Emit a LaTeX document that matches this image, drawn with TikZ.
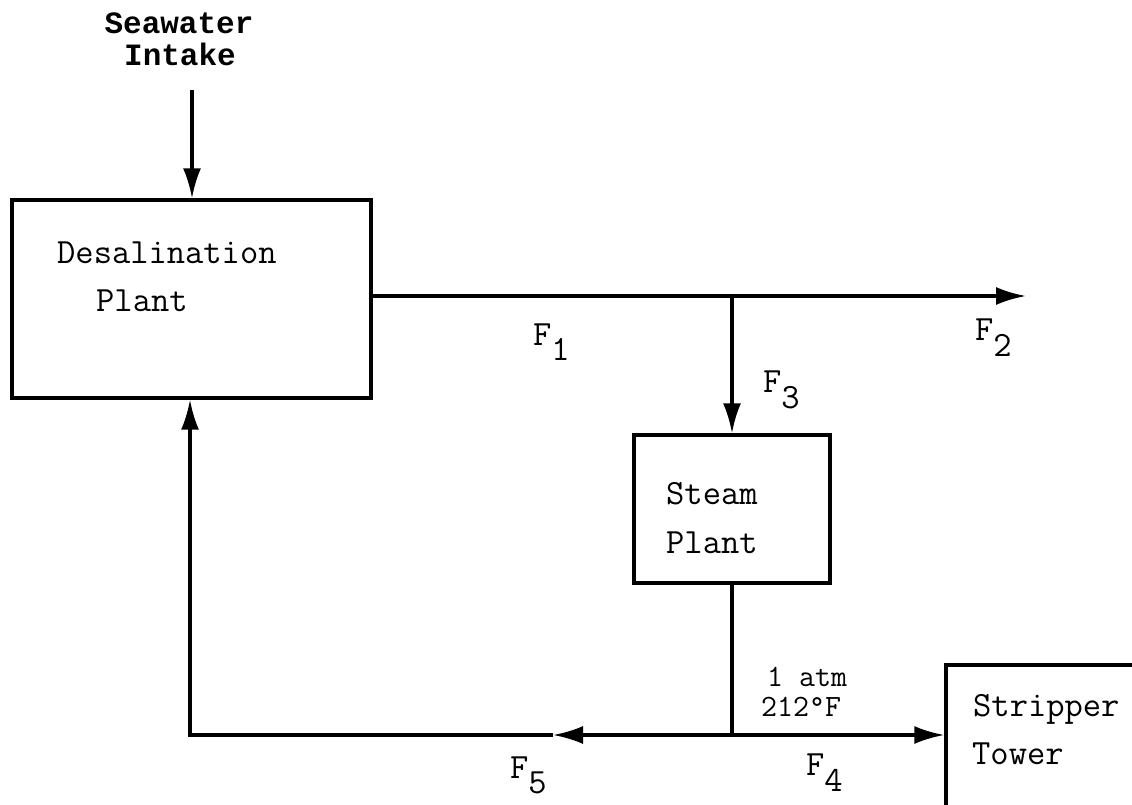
\documentclass[tikz,border=0pt]{standalone}
\usepackage{fontspec}
\newfontfamily\boldmono{Liberation Mono Bold}
\usetikzlibrary{arrows.meta}
\newcommand{\twfont}{\ttfamily\addfontfeatures{FakeBold=0.7}}
\begin{document}
\begin{tikzpicture}[x=1pt,y=-1pt,
  box/.style={draw,line width=3.4pt,minimum width=#1,inner sep=0pt},
  lbl/.style={font=\twfont\fontsize{35.5}{38}\selectfont,inner sep=0pt,anchor=base west},
  small/.style={font=\twfont\fontsize{31}{30}\selectfont,inner sep=0pt,align=left},
  title/.style={font=\boldmono\fontsize{31}{35}\selectfont,inner sep=0pt,anchor=base},
  flow/.style={line width=3.2pt},
  arr/.style={flow,-{Latex[length=30pt,width=18pt]}}]
\useasboundingbox (0,0) rectangle (1132,805);
% boxes
\node[box=359pt,minimum height=198pt] (desal) at (191.5,299) {};
\node[box=196pt,minimum height=148pt] (steam) at (732,509) {};
\node[box=260pt,minimum height=200pt] (strip) at (1076,765) {};
% box texts
\node[lbl] (tdesal1) at (57,263) {Desalination};
\node[lbl] (tdesal2) at (96,311) {Plant};
\node[lbl] (tsteam1) at (666,504) {Steam};
\node[lbl] (tsteam2) at (666,553) {Plant};
\node[lbl] (tstrip1) at (973,716) {Stripper};
\node[lbl] (tstrip2) at (972,764) {Tower};
% intake
\node[title] (sea) at (179,34) {Seawater};
\node[title] (intk) at (180,66) {Intake};
\coordinate (intop) at (192,90);
\draw[arr] (intop) -- (intop |- desal.north);
% F1/F2 line
\coordinate (j1) at (732,296);
\coordinate (f2end) at (1026,296);
\draw[arr] (desal.east |- j1) -- (f2end);
% F3
\draw[arr] (j1) -- (steam.north);
% steam bottom
\coordinate (j2) at (732,735);
\draw[flow] (steam.south) -- (j2);
\draw[arr] (j2) -- (j2 -| strip.west);
% F5
\coordinate (f5tip) at (553,735);
\coordinate (corner) at (190,735);
\draw[arr] (j2) -- (f5tip);
\draw[flow,line join=miter] (f5tip) -- (corner) -- ([yshift=-30pt]corner |- desal.south);
\draw[arr] ([yshift=-30pt]corner |- desal.south) -- (corner |- desal.south);
% conditions
\node[small,anchor=south west] (cond) at (761,717) {\hspace{6pt}1 atm\\212°F};
% flow labels
\node[lbl] (F1) at (533,345) {F\raisebox{-15pt}{1}};
\node[lbl] (F2) at (975,340) {F\raisebox{-16pt}{2}};
\node[lbl] (F3) at (763,392) {F\raisebox{-16pt}{3}};
\node[lbl] (F4) at (806,775) {F\raisebox{-16pt}{4}};
\node[lbl] (F5) at (510,778) {F\raisebox{-15pt}{5}};
\end{tikzpicture}
\end{document}
